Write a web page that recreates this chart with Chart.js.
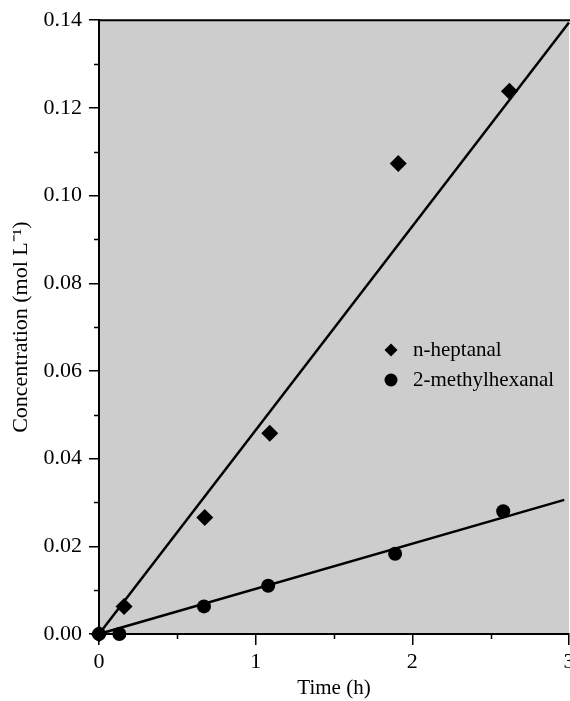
<!DOCTYPE html>
<html><head><meta charset="utf-8">
<script src="https://cdn.jsdelivr.net/npm/chart.js@4.4.0/dist/chart.umd.min.js"></script>
<style>
html,body{margin:0;padding:0;background:#fff;overflow:hidden;width:570px;height:701px}
#wrap{position:relative;width:600px;height:701px}
</style></head><body><div id="wrap"><canvas id="c" width="600" height="701"></canvas></div>
<script>
// ---- data ----
const seriesLabels = ['n-heptanal', '2-methylhexanal'];
const heptanalTime = [0, 0.16, 0.675, 1.09, 1.91, 2.62];
const heptanalConc = [0, 0.0063, 0.0266, 0.0458, 0.1073, 0.1238];
const methylTime = [0, 0.13, 0.67, 1.08, 1.89, 2.58];
const methylConc = [0, 0, 0.0063, 0.011, 0.0183, 0.028];
const heptanalFitTime = [0, 3];
const heptanalFitConc = [0, 0.1395];
const methylFitTime = [0, 2.97];
const methylFitConc = [0, 0.0306];
const xAxisTitle = 'Time (h)';
const yAxisTitle = 'Concentration (mol L\u207B\u00B9)';

const toPts = (xs, ys) => xs.map((x, i) => ({x: x, y: ys[i]}));
const FONT = '"Liberation Serif", "Times New Roman", serif';

const bgPlugin = {
  id: 'bg',
  beforeDraw(chart) {
    const {ctx, chartArea: ca} = chart;
    ctx.save();
    ctx.fillStyle = '#cdcdcd';
    ctx.fillRect(ca.left, ca.top, ca.right - ca.left, ca.bottom - ca.top);
    ctx.restore();
  }
};

const extrasPlugin = {
  id: 'extras',
  afterDraw(chart) {
    const {ctx, chartArea: ca} = chart;
    const xs = chart.scales.x, ys = chart.scales.y;
    ctx.save();
    ctx.strokeStyle = '#000';
    ctx.lineWidth = 1.5;
    ctx.beginPath();
    for (let i = 0; i < ys.ticks.length - 1; i++) {
      const v = (ys.ticks[i].value + ys.ticks[i + 1].value) / 2;
      const p = Math.round(ys.getPixelForValue(v)) + 0.5;
      ctx.moveTo(ca.left - 5, p); ctx.lineTo(ca.left, p);
    }
    for (let i = 0; i < xs.ticks.length - 1; i++) {
      const v = (xs.ticks[i].value + xs.ticks[i + 1].value) / 2;
      const p = Math.round(xs.getPixelForValue(v)) + 0.5;
      ctx.moveTo(p, ca.bottom); ctx.lineTo(p, ca.bottom + 5);
    }
    ctx.stroke();
    // top frame line
    ctx.lineWidth = 2;
    ctx.beginPath();
    ctx.moveTo(ca.left - 1, ca.top); ctx.lineTo(ca.right + 20, ca.top);
    ctx.stroke();
    ctx.restore();
  },
  afterDatasetsDraw(chart) {
    const {ctx} = chart;
    const lx = 391, tx = 413, y1 = 350, y2 = 380;
    ctx.save();
    ctx.fillStyle = '#000';
    // diamond
    ctx.beginPath();
    ctx.moveTo(lx, y1 - 6.5); ctx.lineTo(lx + 6.5, y1); ctx.lineTo(lx, y1 + 6.5); ctx.lineTo(lx - 6.5, y1);
    ctx.closePath(); ctx.fill();
    // circle
    ctx.beginPath(); ctx.arc(lx, y2, 6.5, 0, Math.PI * 2); ctx.fill();
    ctx.font = '21px ' + FONT;
    ctx.textBaseline = 'middle';
    ctx.textAlign = 'left';
    ctx.fillText(seriesLabels[0], tx, y1);
    ctx.fillText(seriesLabels[1], tx, y2);
    ctx.restore();
  }
};

new Chart(document.getElementById('c'), {
  type: 'scatter',
  data: {
    datasets: [
      {
        label: seriesLabels[0] + ' fit', type: 'line', data: toPts(heptanalFitTime, heptanalFitConc),
        borderColor: '#000', borderWidth: 2.5, pointRadius: 0, fill: false, showLine: true, clip: false, order: 3
      },
      {
        label: seriesLabels[1] + ' fit', type: 'line', data: toPts(methylFitTime, methylFitConc),
        borderColor: '#000', borderWidth: 2.5, pointRadius: 0, fill: false, showLine: true, clip: false, order: 3
      },
      {
        label: seriesLabels[0], data: toPts(heptanalTime, heptanalConc),
        pointStyle: 'rectRot', pointRadius: 8.5, backgroundColor: '#000', borderColor: '#000', borderWidth: 0,
        clip: false, order: 1
      },
      {
        label: seriesLabels[1], data: toPts(methylTime, methylConc),
        pointStyle: 'circle', pointRadius: 7, backgroundColor: '#000', borderColor: '#000', borderWidth: 0,
        clip: false, order: 1
      }
    ]
  },
  options: {
    responsive: false,
    animation: false,
    layout: {padding: {top: 15, right: 31, left: 0, bottom: 0}},
    plugins: {legend: {display: false}, tooltip: {enabled: false}},
    scales: {
      x: {
        type: 'linear', min: 0, max: 3,
        afterFit(s) { s.height = 67; },
        ticks: {stepSize: 1, color: '#000', padding: 4, font: {family: FONT, size: 22},
          callback: v => String(v)},
        grid: {display: true, drawOnChartArea: false, drawTicks: true, tickLength: 11, color: '#000', lineWidth: 1.5},
        border: {display: true, color: '#000', width: 2},
        title: {display: true, text: xAxisTitle, color: '#000', font: {family: FONT, size: 21}, padding: {top: 0, bottom: 0}}
      },
      y: {
        type: 'linear', min: 0, max: 0.14,
        afterFit(s) { s.width = 99; },
        ticks: {stepSize: 0.02, color: '#000', padding: 7, font: {family: FONT, size: 22},
          callback: v => Number(v).toFixed(2)},
        grid: {display: true, drawOnChartArea: false, drawTicks: true, tickLength: 10, color: '#000', lineWidth: 1.5},
        border: {display: true, color: '#000', width: 2},
        title: {display: true, text: yAxisTitle, color: '#000', font: {family: FONT, size: 22}, padding: {top: 8, bottom: 0}}
      }
    }
  },
  plugins: [bgPlugin, extrasPlugin]
});
</script>
</body></html>
